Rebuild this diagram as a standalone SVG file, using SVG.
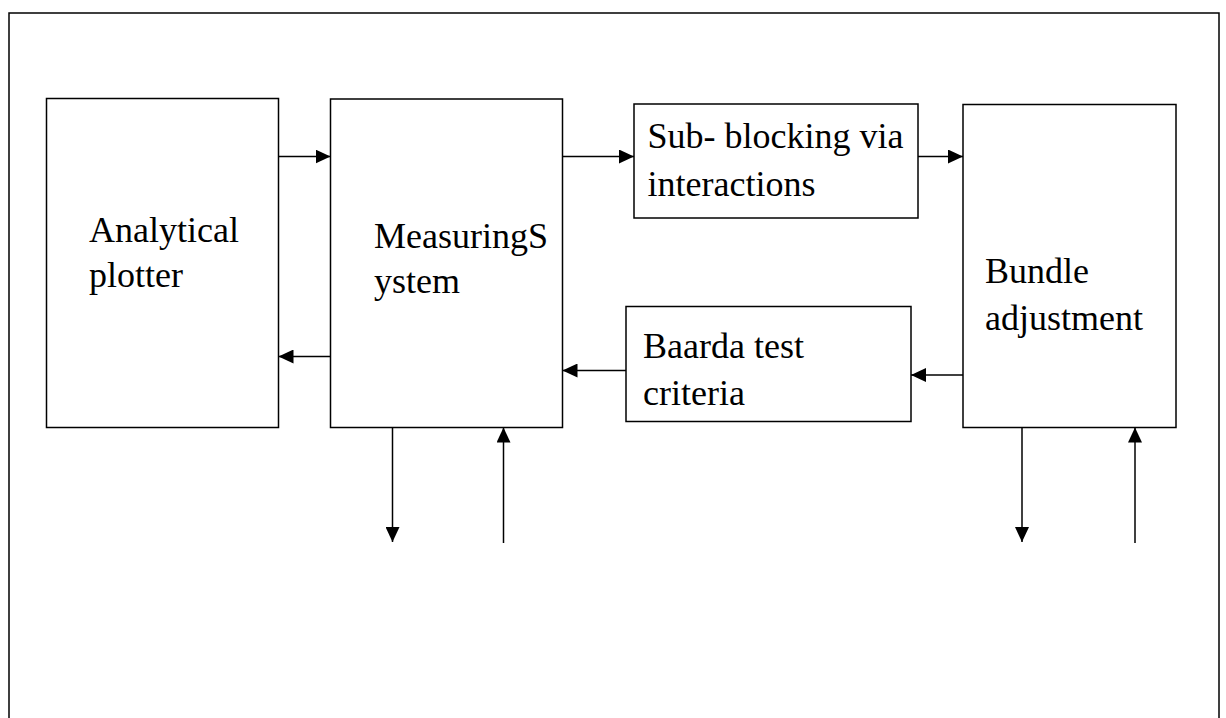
<svg xmlns="http://www.w3.org/2000/svg" width="1226" height="718" viewBox="0 0 1226 718">
<defs>
<marker id="ah" markerUnits="userSpaceOnUse" markerWidth="16" markerHeight="14" refX="15" refY="7" orient="auto">
<path d="M0,0 L15,7 L0,14 z" fill="#000"/>
</marker>
<style>
.box{fill:#fff;stroke:#000;stroke-width:1.5}
.frame{fill:none;stroke:#000;stroke-width:1.5}
.lbl{font-family:"Liberation Serif","Times New Roman",serif;font-size:36px;fill:#000}
.con{stroke:#000;stroke-width:1.5;fill:none;marker-end:url(#ah)}
</style>
</defs>
<rect width="1226" height="718" fill="#fff"/>
<rect class="frame" x="9" y="13" width="1210" height="720"/>
<g id="analytical-plotter">
<rect class="box" x="46.5" y="98.5" width="232" height="329"/>
<text class="lbl" x="89" y="242">Analytical</text>
<text class="lbl" x="89" y="287">plotter</text>
</g>
<g id="measuring-system">
<rect class="box" x="330.5" y="99" width="232" height="328.5"/>
<text class="lbl" x="374" y="248">MeasuringS</text>
<text class="lbl" x="374" y="293">ystem</text>
</g>
<g id="sub-blocking">
<rect class="box" x="634" y="104" width="284" height="114"/>
<text class="lbl" x="647.5" y="148">Sub- blocking via</text>
<text class="lbl" x="647.5" y="196">interactions</text>
</g>
<g id="baarda-test">
<rect class="box" x="626" y="306.5" width="285" height="115"/>
<text class="lbl" x="643" y="358">Baarda test</text>
<text class="lbl" x="643" y="405">criteria</text>
</g>
<g id="bundle-adjustment">
<rect class="box" x="963" y="104.5" width="213" height="323"/>
<text class="lbl" x="985" y="283">Bundle</text>
<text class="lbl" x="985" y="330">adjustment</text>
</g>
<g id="connectors">
<line class="con" x1="278.5" y1="156.5" x2="330.5" y2="156.5"/>
<line class="con" x1="330.5" y1="356.5" x2="278.5" y2="356.5"/>
<line class="con" x1="562.5" y1="156.5" x2="634" y2="156.5"/>
<line class="con" x1="918" y1="156.5" x2="963" y2="156.5"/>
<line class="con" x1="963" y1="375" x2="911" y2="375"/>
<line class="con" x1="626" y1="370.5" x2="562.5" y2="370.5"/>
<line class="con" x1="392.5" y1="427.5" x2="392.5" y2="542"/>
<line class="con" x1="503.5" y1="543" x2="503.5" y2="427.5"/>
<line class="con" x1="1022" y1="427.5" x2="1022" y2="542"/>
<line class="con" x1="1135" y1="543" x2="1135" y2="427.5"/>
</g>
</svg>
